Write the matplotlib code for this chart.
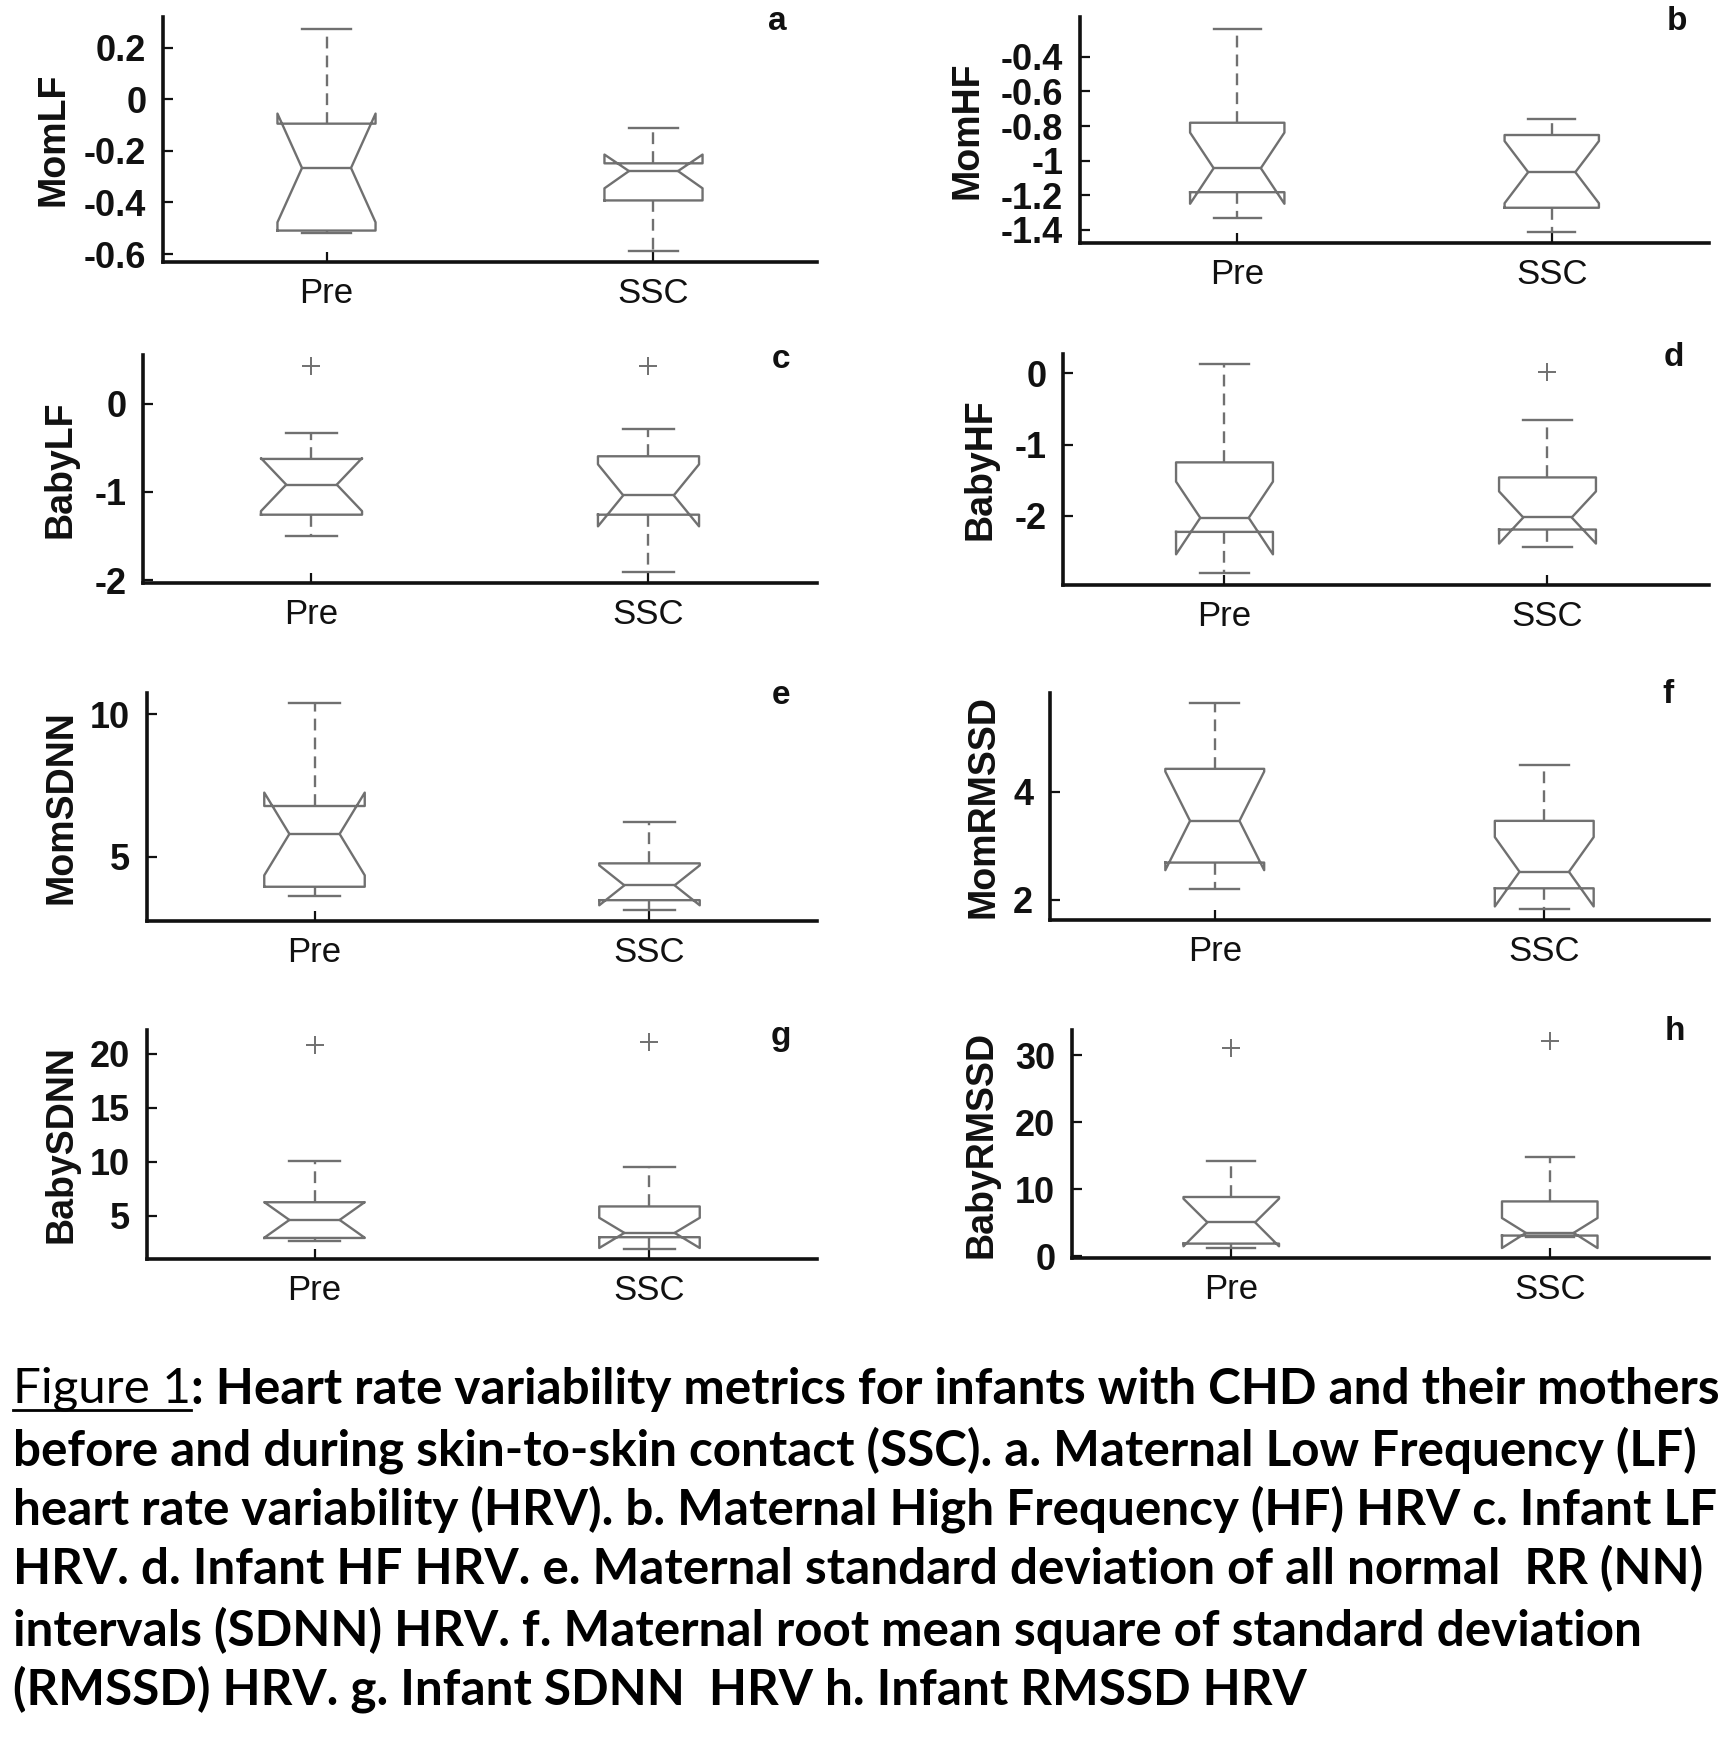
import matplotlib
matplotlib.use("Agg")
import matplotlib.pyplot as plt
from matplotlib import font_manager
from matplotlib.lines import Line2D

# ---------------- data ----------------
groups = ["Pre", "SSC"]
panel_letters = ["a", "b", "c", "d", "e", "f", "g", "h"]
ylabels = ["MomLF", "MomHF", "BabyLF", "BabyHF",
           "MomSDNN", "MomRMSSD", "BabySDNN", "BabyRMSSD"]

# each entry: [Pre, SSC]
medians = [[-0.266, -0.278], [-1.044, -1.067], [-0.917, -1.038], [-2.028, -2.023],
           [5.80, 4.00], [3.46, 2.52], [4.60, 3.40], [5.07, 3.50]]
q1s = [[-0.509, -0.392], [-1.183, -1.273], [-1.257, -1.257], [-2.225, -2.192],
       [3.95, 3.48], [2.69, 2.215], [2.93, 3.00], [1.90, 3.10]]
q3s = [[-0.094, -0.248], [-0.781, -0.852], [-0.626, -0.596], [-1.250, -1.461],
       [6.78, 4.77], [4.42, 3.46], [6.24, 5.85], [8.86, 8.20]]
whis_lo = [[-0.518, -0.587], [-1.333, -1.415], [-1.500, -1.906], [-2.796, -2.436],
           [3.62, 3.13], [2.20, 1.83], [2.68, 1.95], [1.24, 2.90]]
whis_hi = [[0.274, -0.110], [-0.237, -0.760], [-0.330, -0.287], [0.126, -0.656],
           [10.39, 6.23], [5.63, 4.49], [10.10, 9.55], [14.20, 14.80]]
notch_lo = [[-0.477, -0.345], [-1.250, -1.247], [-1.217, -1.389], [-2.540, -2.389],
            [4.35, 3.30], [2.55, 1.88], [2.95, 2.00], [1.50, 1.24]]
notch_hi = [[-0.055, -0.214], [-0.838, -0.887], [-0.617, -0.687], [-1.520, -1.657],
            [7.25, 4.70], [4.37, 3.16], [6.25, 4.80], [8.60, 5.72]]
outliers = [[[], []], [[], []], [[0.42], [0.42]], [[], [0.02]],
            [[], []], [[], []], [[20.84], [21.10]], [[31.1], [32.2]]]

yticks = [[-0.6, -0.4, -0.2, 0, 0.2],
          [-1.4, -1.2, -1, -0.8, -0.6, -0.4],
          [-2, -1, 0], [-2, -1, 0],
          [5, 10], [2, 4], [5, 10, 15, 20], [0, 10, 20, 30]]
ytick_labels = [["-0.6", "-0.4", "-0.2", "0", "0.2"],
                ["-1.4", "-1.2", "-1", "-0.8", "-0.6", "-0.4"],
                ["-2", "-1", "0"], ["-2", "-1", "0"],
                ["5", "10"], ["2", "4"], ["5", "10", "15", "20"], ["0", "10", "20", "30"]]
ylims = [(-0.631, 0.320), (-1.477, -0.169), (-2.03, 0.55), (-2.97, 0.27),
         (2.75, 10.74), (1.63, 5.82), (0.98, 22.2), (-0.25, 33.8)]

caption_lines = [
    "before and during skin-to-skin contact (SSC). a. Maternal Low Frequency (LF)",
    "heart rate variability (HRV). b. Maternal High Frequency (HF) HRV c. Infant LF",
    "HRV. d. Infant HF HRV. e. Maternal standard deviation of all normal  RR (NN)",
    "intervals (SDNN) HRV. f. Maternal root mean square of standard deviation",
    "(RMSSD) HRV. g. Infant SDNN  HRV h. Infant RMSSD HRV",
]
caption_head = "Figure 1"
caption_first = ": Heart rate variability metrics for infants with CHD and their mothers"

# ---------------- layout ----------------
W, H = 1724, 1762
DPI = 100
# axes rectangles in pixels: left, right, top, bottom
rects_px = [(163, 817, 17, 262), (1080, 1709, 17, 243),
            (143, 817, 355, 583), (1063, 1709, 354, 585),
            (147, 817, 693, 921), (1050, 1709, 693, 920),
            (147, 817, 1030, 1259), (1072, 1709, 1030, 1258)]
ylabel_dist_px = [110, 112, 82, 82, 86, 67, 86, 91]
letter_pos_px = [(777, 22), (1677, 21), (781, 359), (1674, 357),
                 (781, 696), (1668, 694), (781, 1036), (1675, 1032)]

names = {f.name for f in font_manager.fontManager.ttflist}
axfont = ["Liberation Sans", "DejaVu Sans"] if "Liberation Sans" in names else ["DejaVu Sans"]
capfont = ["Lato", "DejaVu Sans"] if "Lato" in names else ["DejaVu Sans"]

fig = plt.figure(figsize=(W / DPI, H / DPI), dpi=DPI)
fig.patch.set_facecolor("white")

gray = "#707070"
lw = 1.7

for i in range(8):
    l, r, t, b = rects_px[i]
    ax = fig.add_axes([l / W, 1 - b / H, (r - l) / W, (b - t) / H])
    stats = []
    for j, g in enumerate(groups):
        stats.append(dict(label=g, med=medians[i][j], q1=q1s[i][j], q3=q3s[i][j],
                          whislo=whis_lo[i][j], whishi=whis_hi[i][j],
                          cilo=notch_lo[i][j], cihi=notch_hi[i][j],
                          fliers=outliers[i][j]))
    ax.bxp(stats, positions=[1, 2], widths=0.3, shownotches=True, showfliers=True,
           boxprops=dict(color=gray, lw=lw),
           whiskerprops=dict(color=gray, lw=lw, linestyle=(0, (5, 3))),
           capprops=dict(color=gray, lw=lw),
           medianprops=dict(color=gray, lw=lw),
           flierprops=dict(marker="+", markeredgecolor=gray, markersize=13, mew=1.4))
    ax.set_xlim(0.5, 2.5)
    ax.set_ylim(*ylims[i])
    ax.set_xticks([1, 2])
    ax.set_xticklabels(groups, family=axfont, fontsize=25)
    ax.set_yticks(yticks[i])
    ax.set_yticklabels(ytick_labels[i], family=axfont, fontsize=26, fontweight="bold")
    for s in ["top", "right"]:
        ax.spines[s].set_visible(False)
    for s in ["left", "bottom"]:
        ax.spines[s].set_linewidth(2.6)
        ax.spines[s].set_color("#111111")
    ax.tick_params(axis="y", direction="in", length=7, width=1.6, pad=12, colors="#111111")
    ax.tick_params(axis="x", direction="in", length=7, width=1.6, pad=11, colors="#111111")
    ax.set_ylabel(ylabels[i], family=axfont, fontsize=27, fontweight="bold",
                  va="center", color="#111111")
    ax.yaxis.set_label_coords(-ylabel_dist_px[i] / (r - l), 0.5)
    ax.set_facecolor("white")
    lx, ly = letter_pos_px[i]
    fig.text(lx / W, 1 - ly / H, panel_letters[i], family=axfont, fontsize=24,
             fontweight="bold", ha="center", va="center", color="#111111")

# ---------------- caption ----------------
line_y_px = [1389, 1450, 1509, 1569, 1630, 1689]
x0_px = 13
target_w = 1707
base = 28
renderer = fig.canvas.get_renderer()

t_head = fig.text(x0_px / W, 1 - line_y_px[0] / H, caption_head, family=capfont,
                  fontsize=base, ha="left", va="center", color="black")
t_first = fig.text(0, 1 - line_y_px[0] / H, caption_first, family=capfont,
                   fontsize=base, fontweight="bold", ha="left", va="center", color="black")
others = []
for k, s in enumerate(caption_lines):
    others.append(fig.text(x0_px / W, 1 - line_y_px[k + 1] / H, s, family=capfont,
                           fontsize=base, fontweight="bold", ha="left", va="center",
                           color="black"))

w1 = t_head.get_window_extent(renderer).width + t_first.get_window_extent(renderer).width
scale = target_w / w1
fs = base * scale
for t in [t_head, t_first] + others:
    t.set_fontsize(fs)
bb = t_head.get_window_extent(renderer)
t_first.set_x(bb.x1 / W)
uy = (bb.y0 + 1) / H
fig.add_artist(Line2D([bb.x0 / W, bb.x1 / W], [uy, uy], color="black", lw=2.0))

fig.savefig("out.png", dpi=DPI, facecolor="white")
